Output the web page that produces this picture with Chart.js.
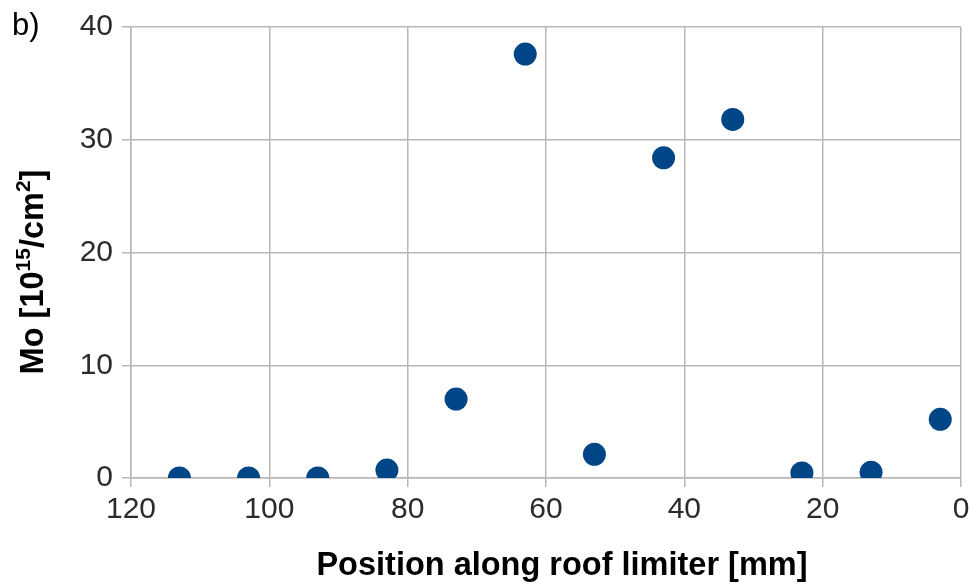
<!DOCTYPE html>
<html>
<head>
<meta charset="utf-8">
<script src="https://cdn.jsdelivr.net/npm/chart.js@4/dist/chart.umd.min.js"></script>
<style>
  html, body { margin: 0; padding: 0; background: #ffffff; }
  #wrap { width: 977px; height: 587px; position: relative; }
</style>
</head>
<body>
<div id="wrap"><canvas id="c" width="977" height="587"></canvas></div>
<script>
// ---- data ----
const positions = [113, 103, 93, 83, 73, 63, 53, 43, 33, 23, 13, 3];          // mm
const moValues  = [0.0, 0.0, 0.0, 0.7, 7.0, 37.6, 2.1, 28.4, 31.8, 0.45, 0.5, 5.2]; // 10^15/cm^2
const xTicks = [120, 100, 80, 60, 40, 20, 0];
const yTicks = [0, 10, 20, 30, 40];
const panelLabel = 'b)';
const xTitle = 'Position along roof limiter [mm]';
const yTitleParts = [['Mo [10', false], ['15', true], ['/cm', false], ['2', true], [']', false]];

const FONT = "'Liberation Sans', Arial, sans-serif";
const gridColor = '#b7b7b7';
const pointColor = '#004586';

const titlesPlugin = {
  id: 'titles',
  afterDraw(chart) {
    const ctx = chart.ctx;
    ctx.save();
    ctx.fillStyle = '#000000';
    // panel label
    ctx.font = '31px ' + FONT;
    ctx.textAlign = 'left';
    ctx.textBaseline = 'alphabetic';
    ctx.fillText(panelLabel, 12, 35);
    // x-axis title
    ctx.font = 'bold 32.5px ' + FONT;
    ctx.textAlign = 'center';
    ctx.fillText(xTitle, 562, 575);
    // y-axis title with superscripts, rotated
    const base = 'bold 32.5px ' + FONT;
    const sup = 'bold 21px ' + FONT;
    let total = 0;
    const widths = yTitleParts.map(([t, s]) => { ctx.font = s ? sup : base; const w = ctx.measureText(t).width; total += w; return w; });
    ctx.translate(43, 272);
    ctx.rotate(-Math.PI / 2);
    ctx.textAlign = 'left';
    let x = -total / 2;
    yTitleParts.forEach(([t, s], i) => {
      ctx.font = s ? sup : base;
      ctx.fillText(t, x, s ? -13 : 0);
      x += widths[i];
    });
    ctx.restore();
  }
};

new Chart(document.getElementById('c'), {
  type: 'scatter',
  data: {
    datasets: [{
      data: positions.map((p, i) => ({ x: p, y: moValues[i] })),
      backgroundColor: pointColor,
      borderColor: pointColor,
      borderWidth: 0,
      pointRadius: 11.5,
      pointHoverRadius: 11.5
    }]
  },
  options: {
    responsive: false,
    animation: false,
    events: [],
    layout: { padding: { top: 27, right: 16, left: 0, bottom: 0 } },
    plugins: { legend: { display: false }, tooltip: { enabled: false } },
    scales: {
      x: {
        type: 'linear',
        reverse: true,
        min: 0, max: 120,
        afterBuildTicks(scale) { scale.ticks = xTicks.map(v => ({ value: v })); },
        afterFit(scale) { scale.height = 109; },
        grid: { color: gridColor, lineWidth: 1.5, tickLength: 9, drawTicks: true },
        border: { color: gridColor, width: 1.5 },
        ticks: { color: '#2b2b2b', font: { family: FONT, size: 30 }, padding: 5, maxRotation: 0 }
      },
      y: {
        type: 'linear',
        min: 0, max: 40,
        afterBuildTicks(scale) { scale.ticks = yTicks.map(v => ({ value: v })); },
        afterFit(scale) { scale.width = 131; },
        grid: { color: gridColor, lineWidth: 1.5, tickLength: 9, drawTicks: true },
        border: { color: gridColor, width: 1.5 },
        ticks: { color: '#2b2b2b', font: { family: FONT, size: 30 }, padding: 9 }
      }
    }
  },
  plugins: [titlesPlugin]
});
</script>
</body>
</html>
